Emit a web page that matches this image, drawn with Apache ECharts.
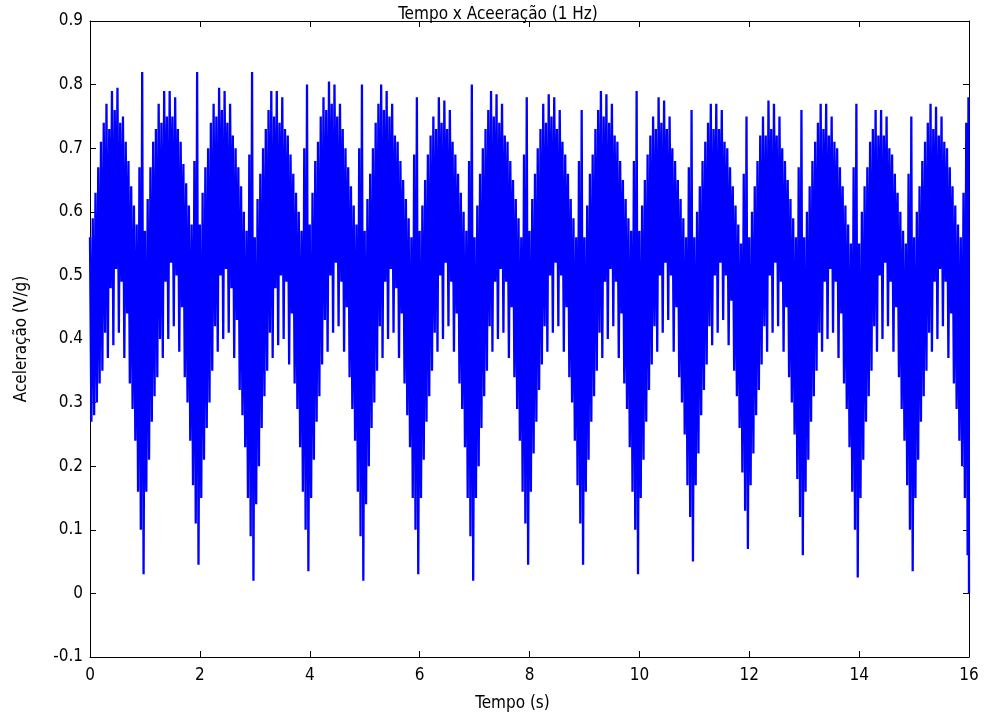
<!DOCTYPE html>
<html>
<head>
<meta charset="utf-8">
<script src="https://cdn.jsdelivr.net/npm/echarts@6/dist/echarts.min.js"></script>
<style>
html,body{margin:0;padding:0;background:#fff;}
#chart{width:984px;height:717px;}
</style>
</head>
<body>
<div id="chart"></div>
<script>
// Sampled acceleration signal: each second holds 20 oscillations.
// peaks[c][j]  : local maximum at t = c + j*0.05
// troughs[c][j]: local minimum at t = c + j*0.05 + 0.025
const peaks = [
  [0.56,0.59,0.63,0.67,0.71,0.74,0.77,0.73,0.79,0.76,0.795,0.74,0.75,0.71,0.68,0.64,0.61,0.58,0.67,0.82],
  [0.57,0.62,0.67,0.71,0.73,0.77,0.74,0.79,0.75,0.79,0.75,0.78,0.73,0.71,0.675,0.645,0.61,0.58,0.68,0.82],
  [0.58,0.63,0.67,0.70,0.74,0.77,0.75,0.795,0.76,0.79,0.74,0.77,0.72,0.70,0.67,0.64,0.60,0.57,0.69,0.82],
  [0.56,0.62,0.66,0.70,0.73,0.76,0.79,0.75,0.79,0.74,0.78,0.73,0.72,0.69,0.66,0.63,0.60,0.57,0.70,0.80],
  [0.58,0.63,0.68,0.71,0.75,0.78,0.76,0.805,0.77,0.80,0.75,0.77,0.73,0.70,0.67,0.64,0.61,0.58,0.70,0.80],
  [0.57,0.62,0.66,0.70,0.74,0.77,0.80,0.76,0.79,0.75,0.77,0.72,0.71,0.68,0.65,0.62,0.59,0.56,0.69,0.78],
  [0.57,0.61,0.65,0.69,0.72,0.75,0.73,0.78,0.74,0.775,0.73,0.76,0.71,0.69,0.66,0.63,0.60,0.57,0.68,0.80],
  [0.56,0.61,0.66,0.70,0.73,0.76,0.79,0.75,0.785,0.74,0.77,0.72,0.71,0.68,0.65,0.62,0.59,0.56,0.69,0.78],
  [0.57,0.62,0.66,0.70,0.73,0.77,0.74,0.785,0.75,0.78,0.73,0.76,0.71,0.69,0.66,0.62,0.59,0.56,0.68,0.76],
  [0.56,0.61,0.66,0.69,0.73,0.76,0.79,0.75,0.785,0.74,0.77,0.72,0.71,0.68,0.65,0.62,0.59,0.57,0.68,0.79],
  [0.57,0.61,0.65,0.69,0.72,0.75,0.73,0.78,0.74,0.775,0.73,0.75,0.70,0.68,0.65,0.62,0.59,0.56,0.67,0.76],
  [0.56,0.60,0.64,0.68,0.71,0.74,0.77,0.73,0.77,0.73,0.76,0.71,0.70,0.67,0.64,0.61,0.58,0.55,0.66,0.75],
  [0.56,0.60,0.64,0.68,0.72,0.75,0.72,0.775,0.73,0.77,0.72,0.75,0.70,0.68,0.65,0.62,0.59,0.56,0.67,0.76],
  [0.56,0.60,0.64,0.68,0.71,0.74,0.77,0.73,0.77,0.72,0.75,0.71,0.70,0.67,0.64,0.61,0.58,0.55,0.67,0.77],
  [0.55,0.60,0.64,0.67,0.71,0.73,0.76,0.72,0.76,0.72,0.75,0.70,0.69,0.66,0.63,0.60,0.57,0.55,0.66,0.75],
  [0.56,0.60,0.64,0.68,0.71,0.74,0.77,0.73,0.765,0.72,0.75,0.71,0.70,0.67,0.64,0.61,0.58,0.56,0.63,0.74]
];
const troughs = [
  [0.27,0.28,0.30,0.33,0.35,0.41,0.37,0.48,0.39,0.51,0.41,0.49,0.37,0.44,0.33,0.29,0.24,0.16,0.10,0.03],
  [0.16,0.21,0.27,0.31,0.34,0.40,0.37,0.49,0.40,0.52,0.42,0.50,0.38,0.45,0.34,0.30,0.24,0.17,0.11,0.045],
  [0.15,0.21,0.26,0.30,0.35,0.42,0.38,0.50,0.40,0.51,0.41,0.48,0.37,0.43,0.32,0.28,0.23,0.15,0.09,0.02],
  [0.14,0.20,0.26,0.31,0.35,0.41,0.37,0.48,0.39,0.50,0.40,0.49,0.36,0.44,0.33,0.29,0.23,0.16,0.10,0.035],
  [0.15,0.21,0.27,0.31,0.36,0.43,0.38,0.50,0.41,0.52,0.42,0.49,0.38,0.45,0.34,0.29,0.24,0.16,0.09,0.02],
  [0.14,0.20,0.26,0.30,0.35,0.42,0.37,0.49,0.40,0.51,0.41,0.48,0.37,0.44,0.33,0.28,0.23,0.15,0.10,0.03],
  [0.15,0.21,0.27,0.31,0.35,0.41,0.38,0.50,0.40,0.52,0.42,0.49,0.38,0.44,0.33,0.29,0.23,0.15,0.09,0.02],
  [0.15,0.20,0.26,0.31,0.35,0.42,0.38,0.49,0.40,0.51,0.41,0.49,0.37,0.45,0.34,0.29,0.24,0.16,0.11,0.045],
  [0.16,0.22,0.27,0.32,0.36,0.42,0.38,0.50,0.41,0.52,0.42,0.50,0.38,0.45,0.34,0.30,0.24,0.17,0.11,0.045],
  [0.16,0.21,0.27,0.31,0.35,0.41,0.37,0.49,0.40,0.51,0.42,0.49,0.37,0.44,0.33,0.29,0.23,0.16,0.10,0.03],
  [0.15,0.21,0.27,0.32,0.36,0.42,0.38,0.50,0.41,0.52,0.43,0.50,0.38,0.45,0.34,0.30,0.25,0.17,0.12,0.05],
  [0.17,0.22,0.28,0.32,0.36,0.42,0.39,0.50,0.41,0.52,0.43,0.50,0.39,0.46,0.35,0.31,0.26,0.19,0.13,0.07],
  [0.17,0.22,0.28,0.32,0.36,0.42,0.38,0.50,0.41,0.52,0.42,0.49,0.38,0.45,0.34,0.30,0.25,0.18,0.12,0.06],
  [0.16,0.21,0.27,0.31,0.35,0.41,0.38,0.49,0.40,0.51,0.41,0.49,0.37,0.44,0.33,0.29,0.23,0.16,0.10,0.025],
  [0.15,0.21,0.27,0.31,0.35,0.42,0.38,0.50,0.40,0.52,0.42,0.49,0.38,0.45,0.34,0.29,0.24,0.17,0.10,0.035],
  [0.15,0.21,0.27,0.31,0.35,0.41,0.38,0.49,0.40,0.51,0.42,0.49,0.37,0.44,0.33,0.29,0.24,0.20,0.15,0.06]
];
// last samples at the right edge
const tailTimes  = [15.99, 16.0];
const tailValues = [0.78, 0.0];

const xTicks = [0,2,4,6,8,10,12,14,16];
const yTicks = [-0.1,0,0.1,0.2,0.3,0.4,0.5,0.6,0.7,0.8,0.9];

const titleText = 'Tempo x Aceeração (1 Hz)';
const xName = 'Tempo (s)';
const yName = 'Aceleração (V/g)';

const data = [];
for (let c = 0; c < peaks.length; c++) {
  for (let j = 0; j < peaks[c].length; j++) {
    data.push([c + j * 0.05, peaks[c][j]]);
    data.push([c + j * 0.05 + 0.025, troughs[c][j]]);
  }
}
for (let i = 0; i < tailTimes.length; i++) data.push([tailTimes[i], tailValues[i]]);

const FONT = '"Liberation Sans Narrow","Arial Narrow","DejaVu Sans Condensed","Liberation Sans",Arial,sans-serif';
function axisCommon() {
  return {
    axisLine: {show: true, onZero: false, lineStyle: {color: '#000', width: 1}},
    axisTick: {show: true, inside: true, length: 6, lineStyle: {color: '#000', width: 1}},
    splitLine: {show: false},
    minorTick: {show: false}
  };
}

const chart = echarts.init(document.getElementById('chart'), null, {renderer: 'canvas'});
chart.setOption({
  animation: false,
  backgroundColor: '#fff',
  title: {
    text: titleText,
    left: 493, top: 1, textAlign: 'center',
    textStyle: {fontFamily: FONT, fontSize: 17, fontWeight: 'normal', color: '#000'}
  },
  grid: {left: 90, right: 15, top: 21, bottom: 60, containLabel: false},
  xAxis: [
    Object.assign({
      type: 'value', min: xTicks[0], max: xTicks[xTicks.length-1], interval: 2, position: 'bottom',
      name: xName, nameLocation: 'middle', nameGap: 38,
      nameTextStyle: {fontFamily: FONT, fontSize: 17, color: '#000', padding: [0, 34, 0, 0]},
      axisLabel: {fontFamily: FONT, fontSize: 17, color: '#000', margin: 10}
    }, axisCommon()),
    Object.assign({
      type: 'value', min: xTicks[0], max: xTicks[xTicks.length-1], interval: 2, position: 'top',
      axisLabel: {show: false}
    }, axisCommon())
  ],
  yAxis: [
    Object.assign({
      type: 'value', min: yTicks[0], max: yTicks[yTicks.length-1], interval: 0.1, position: 'left',
      name: yName, nameLocation: 'middle', nameGap: 60,
      nameTextStyle: {fontFamily: FONT, fontSize: 17, color: '#000'},
      axisLabel: {fontFamily: FONT, fontSize: 17, color: '#000', margin: 7,
        formatter: v => String(+v.toFixed(1))}
    }, axisCommon()),
    Object.assign({
      type: 'value', min: yTicks[0], max: yTicks[yTicks.length-1], interval: 0.1, position: 'right',
      axisLabel: {show: false}
    }, axisCommon())
  ],
  series: [{
    type: 'line',
    data: data,
    xAxisIndex: 0, yAxisIndex: 0,
    showSymbol: false, symbol: 'none',
    lineStyle: {color: '#0000ff', width: 2.3},
    clip: true
  }]
});
</script>
</body>
</html>
